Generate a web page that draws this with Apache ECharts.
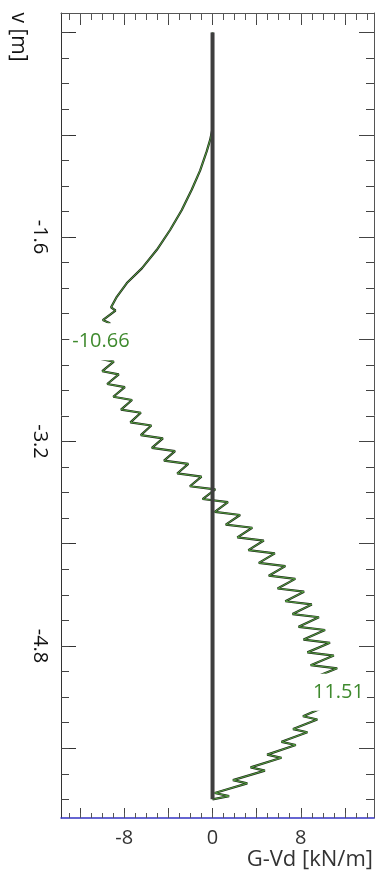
<!DOCTYPE html>
<html>
<head>
<meta charset="utf-8">
<script src="https://cdn.jsdelivr.net/npm/echarts@6/dist/echarts.min.js"></script>
<style>
  html, body { margin: 0; padding: 0; background: #ffffff; }
  #chart { width: 376px; height: 874px; }
</style>
</head>
<body>
<div id="chart"></div>
<script>
// Depth v [m] along the wall and the shear resultant G-Vd [kN/m] at each depth
const depth = [
  0, -0.75, -0.84, -0.93, -1.08, -1.23, -1.39, -1.545, -1.70, -1.845, -1.96, -2.068, -2.15,
  -2.175, -2.25, -2.275, -2.35, -2.375, -2.45, -2.475,
  -2.55, -2.575, -2.65, -2.675, -2.75, -2.775, -2.85, -2.875, -2.95, -2.975,
  -3.05, -3.075, -3.15, -3.175, -3.25, -3.275, -3.35, -3.375, -3.45, -3.475,
  -3.55, -3.575, -3.65, -3.675, -3.75, -3.775, -3.85, -3.875, -3.95, -3.975,
  -4.05, -4.075, -4.15, -4.175, -4.25, -4.275, -4.35, -4.375, -4.45, -4.475,
  -4.55, -4.575, -4.65, -4.675, -4.75, -4.775, -4.85, -4.875, -4.95, -4.975,
  -5.05, -5.075, -5.15, -5.175, -5.25, -5.275, -5.35, -5.375, -5.45, -5.475,
  -5.55, -5.575, -5.65, -5.675, -5.75, -5.775, -5.85, -5.875, -5.95, -5.975,
  -6.0
];
const shearG = [
  0, 0, -0.22, -0.53, -1.13, -1.89, -2.8, -3.85, -5.05, -6.41, -7.77, -8.68, -9.2,
  -8.8, -9.95, -9.3, -10.35, -9.55, -10.66, -9.34,
  -10.35, -8.95, -10.0, -8.5, -9.55, -7.95, -9.0, -7.3, -8.3, -6.5,
  -7.45, -5.55, -6.5, -4.5, -5.5, -3.4, -4.4, -2.2, -3.2, -1.0,
  -2.05, 0.25, -0.9, 1.4, 0.2, 2.5, 1.2, 3.6, 2.25, 4.65,
  3.25, 5.65, 4.2, 6.6, 5.1, 7.5, 5.9, 8.3, 6.6, 9.0,
  7.25, 9.65, 7.8, 10.2, 8.25, 10.65, 8.6, 11.0, 8.9, 11.3,
  9.11, 11.51, 9.35, 10.65, 8.9, 10.2, 8.2, 9.5, 7.3, 8.6,
  6.25, 7.55, 4.95, 6.25, 3.45, 4.75, 1.85, 3.15, 0.2, 1.5,
  0
];

// Reference line G-Vd = 0 over the wall height
const zeroDepth = [0, -6.0];
const zeroShear = [0, 0];

// Tick positions and labels
const xMajorTicks = [-12, -8, -4, 0, 4, 8, 12];
const xMinorTicks = [-13, -12, -11, -10, -9, -8, -7, -6, -5, -4, -3, -2, -1, 0,
                     1, 2, 3, 4, 5, 6, 7, 8, 9, 10, 11, 12, 13, 14];
const xTickLabels = [-8, 0, 8];
const yMajorTicks = [0, -0.8, -1.6, -2.4, -3.2, -4.0, -4.8, -5.6];
const yMinorTicks = [0, -0.2, -0.4, -0.6, -0.8, -1.0, -1.2, -1.4, -1.6, -1.8, -2.0,
                     -2.2, -2.4, -2.6, -2.8, -3.0, -3.2, -3.4, -3.6, -3.8, -4.0,
                     -4.2, -4.4, -4.6, -4.8, -5.0, -5.2, -5.4, -5.6, -5.8, -6.0];
const yTickLabels = [-1.6, -3.2, -4.8];

const xName = 'G-Vd [kN/m]';
const yName = 'v [m]';

// Plot window
const X_MIN = -13.74, X_MAX = 14.64;
const Y_MIN = -6.146, Y_MAX = 0.153;

const FONT = '"Open Sans", "DejaVu Sans", sans-serif';
const GREEN = '#3f8a2e';

const curve = depth.map((v, i) => [shearG[i], v]);
const zeroCurve = zeroDepth.map((v, i) => [zeroShear[i], v]);

let iMin = 0, iMax = 0;
shearG.forEach((g, i) => {
  if (g < shearG[iMin]) iMin = i;
  if (g > shearG[iMax]) iMax = i;
});

const gridRect = { left: 61, top: 13, width: 313, height: 805 };

function xAx(gridIndex, position, opts) {
  return Object.assign({
    type: 'value', gridIndex, position, min: X_MIN, max: X_MAX,
    splitLine: { show: false },
    axisLine: { show: false, onZero: false },
    axisLabel: { show: false },
    axisTick: { show: false }
  }, opts);
}
function yAx(gridIndex, position, opts) {
  return Object.assign({
    type: 'value', gridIndex, position, min: Y_MIN, max: Y_MAX,
    splitLine: { show: false },
    axisLine: { show: false, onZero: false },
    axisLabel: { show: false },
    axisTick: { show: false }
  }, opts);
}

const chart = echarts.init(document.getElementById('chart'), null, { renderer: 'canvas' });

chart.setOption({
  backgroundColor: '#ffffff',
  animation: false,
  grid: [Object.assign({}, gridRect), Object.assign({}, gridRect)],
  xAxis: [
    xAx(0, 'bottom', {
      axisLine: { show: true, onZero: false, lineStyle: { color: '#3434c4', width: 1.5 } },
      axisTick: { show: true, inside: true, length: 10, customValues: xMajorTicks,
                  lineStyle: { color: '#444', width: 1 } },
      axisLabel: { show: true, customValues: xTickLabels, margin: 10,
                   color: '#333', fontSize: 20, fontFamily: FONT,
                   formatter: v => String(v) }
    }),
    xAx(0, 'top', {
      axisLine: { show: true, onZero: false, lineStyle: { color: '#555', width: 1 } },
      axisTick: { show: true, inside: true, length: 12, customValues: xMajorTicks,
                  lineStyle: { color: '#444', width: 1 } }
    }),
    xAx(1, 'bottom', {
      axisTick: { show: true, inside: true, length: 5, customValues: xMinorTicks,
                  lineStyle: { color: '#555', width: 1 } }
    }),
    xAx(1, 'top', {
      axisTick: { show: true, inside: true, length: 7, customValues: xMinorTicks,
                  lineStyle: { color: '#555', width: 1 } }
    })
  ],
  yAxis: [
    yAx(0, 'left', {
      axisLine: { show: true, onZero: false, lineStyle: { color: '#333', width: 1 } },
      axisTick: { show: true, inside: true, length: 15, customValues: yMajorTicks,
                  lineStyle: { color: '#333', width: 1 } },
      axisLabel: { show: true, customValues: yTickLabels, rotate: -90, margin: 11,
                   color: '#111', fontSize: 20, fontFamily: FONT,
                   formatter: v => v.toFixed(1) }
    }),
    yAx(0, 'right', {
      axisLine: { show: true, onZero: false, lineStyle: { color: '#555', width: 1 } },
      axisTick: { show: true, inside: true, length: 15, customValues: yMajorTicks,
                  lineStyle: { color: '#444', width: 1 } }
    }),
    yAx(1, 'left', {
      axisTick: { show: true, inside: true, length: 8, customValues: yMinorTicks,
                  lineStyle: { color: '#444', width: 1 } }
    }),
    yAx(1, 'right', {
      axisTick: { show: true, inside: true, length: 8, customValues: yMinorTicks,
                  lineStyle: { color: '#444', width: 1 } }
    })
  ],
  graphic: [
    {
      type: 'text', x: 18, y: 37, rotation: -Math.PI / 2,
      style: { text: yName, fill: '#111', font: '21px ' + FONT, align: 'center', verticalAlign: 'middle' }
    },
    {
      type: 'text', right: 3, top: 849,
      style: { text: xName, fill: '#333', font: '22px ' + FONT }
    }
  ],
  series: [
    {
      type: 'line', xAxisIndex: 0, yAxisIndex: 0, data: curve, z: 2,
      symbol: 'none', silent: true,
      lineStyle: { color: '#1e2a1a', width: 2.2 }
    },
    {
      type: 'line', xAxisIndex: 0, yAxisIndex: 0, data: curve, z: 3,
      symbol: 'none', silent: true,
      lineStyle: { color: '#55a040', width: 1 },
      markPoint: {
        symbol: 'circle', symbolSize: 0, silent: true,
        label: {
          show: true, position: 'inside', color: GREEN, fontSize: 20, fontFamily: FONT,
          backgroundColor: '#ffffff', formatter: p => p.value.toFixed(2)
        },
        data: [
          { coord: [shearG[iMin], depth[iMin]], value: shearG[iMin],
            label: { offset: [6, -4], padding: [12, 3, 5, 3] } },
          { coord: [shearG[iMax], depth[iMax]], value: shearG[iMax],
            label: { offset: [-1, 11], padding: [12, 3, 5, 3] } }
        ]
      }
    },
    {
      type: 'line', xAxisIndex: 0, yAxisIndex: 0, data: zeroCurve, z: 4,
      symbol: 'none', silent: true,
      lineStyle: { color: '#3e3e3e', width: 4 }
    }
  ]
});
</script>
</body>
</html>
